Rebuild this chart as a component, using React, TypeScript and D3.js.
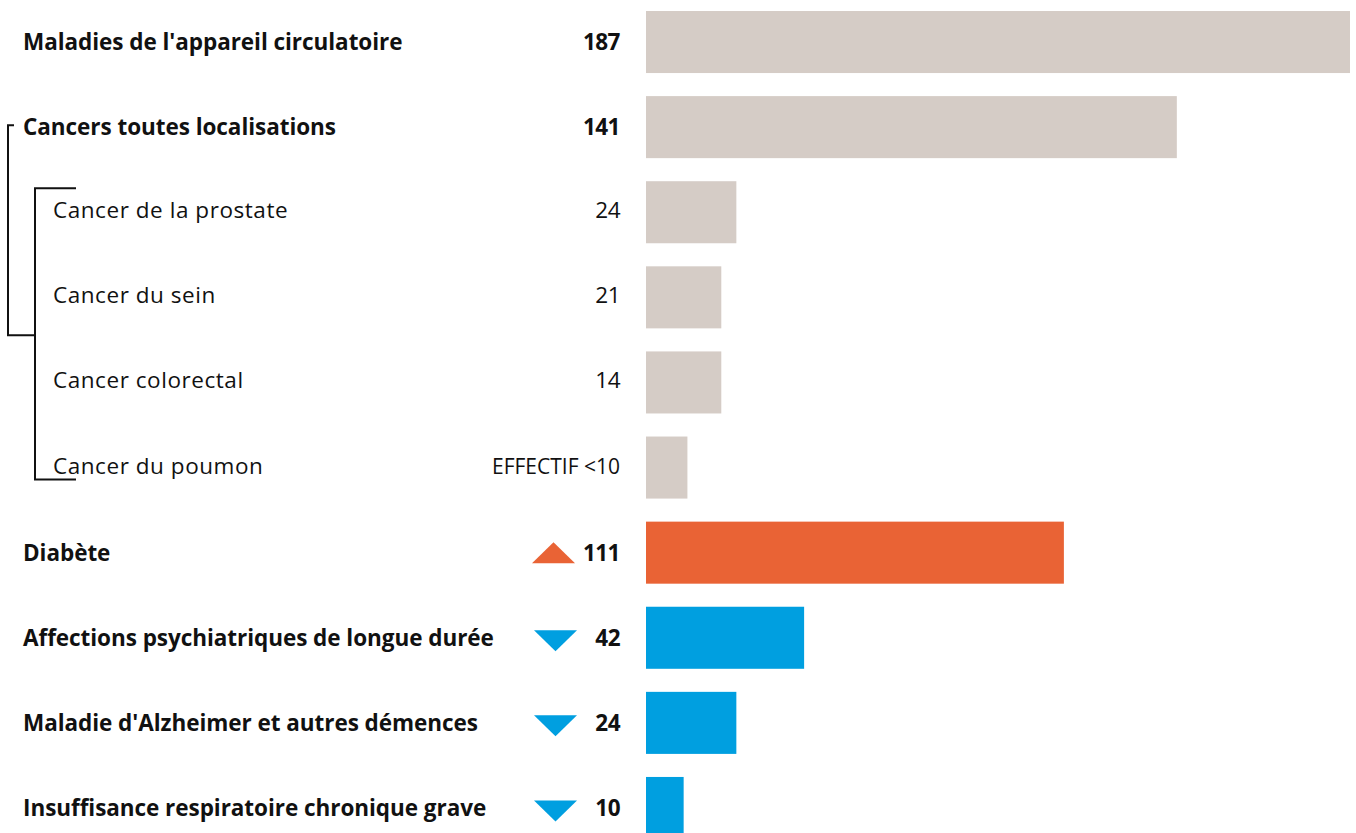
import React from "react";
import * as d3 from "d3";

const categories = [
  "Maladies de l'appareil circulatoire",
  "Cancers toutes localisations",
  "Cancer de la prostate",
  "Cancer du sein",
  "Cancer colorectal",
  "Cancer du poumon",
  "Diabète",
  "Affections psychiatriques de longue durée",
  "Maladie d'Alzheimer et autres démences",
  "Insuffisance respiratoire chronique grave",
];
const valueLabels = ["187", "141", "24", "21", "14", "EFFECTIF <10", "111", "42", "24", "10"];
const barValues = [187, 141, 24, 20, 20, 11, 111, 42, 24, 10];
const levels = [0, 0, 1, 1, 1, 1, 0, 0, 0, 0];
const groups = ["neutral", "neutral", "neutral", "neutral", "neutral", "neutral", "up", "down", "down", "down"];

const W = 1356;
const H = 833;
const FONT = "'Open Sans', Roboto, sans-serif";
const colors: Record<string, string> = { neutral: "#d5ccc6", up: "#e96335", down: "#009fe0" };

export default function App() {
  const x = d3.scaleLinear().domain([0, 187]).range([646, 1350]);
  const y = d3
    .scaleBand<number>()
    .domain(d3.range(categories.length))
    .range([11, 839])
    .paddingInner(0.271)
    .paddingOuter(0);
  const bw = y.bandwidth();
  const cy = (i: number) => (y(i) as number) + bw / 2;

  const triW = 43;
  const triH = 21;

  return (
    <svg
      width={W}
      height={H}
      style={{ position: "absolute", left: 0, top: 0, background: "#fff" }}
      fontFamily={FONT}
    >
      {categories.map((c, i) => {
        const isSub = levels[i] === 1;
        const g = groups[i];
        const c0 = cy(i);
        const tx = g === "up" ? 553.5 : 555.5;
        const small = valueLabels[i].length > 4;
        return (
          <g key={i}>
            <rect x={x(0)} y={y(i)} width={x(barValues[i]) - x(0)} height={bw} fill={colors[g]} />
            <text
              x={isSub ? 53 : 23}
              y={c0 + (isSub ? 6 : 8)}
              fontSize={22.5}
              fontWeight={isSub ? 400 : 700}
              letterSpacing={isSub ? 0.55 : -0.05}
              fill="#111"
            >
              {c}
            </text>
            <text
              x={620}
              y={c0 + (isSub ? 6 : 8)}
              textAnchor="end"
              fontSize={small ? 21 : 22.5}
              fontWeight={isSub ? 400 : 700}
              letterSpacing={small ? 0 : -0.5}
              fill="#111"
            >
              {valueLabels[i]}
            </text>
            {g === "up" && (
              <path
                d={`M${tx - triW / 2},${c0 + triH / 2} L${tx + triW / 2},${c0 + triH / 2} L${tx},${c0 - triH / 2} Z`}
                fill={colors.up}
              />
            )}
            {g === "down" && (
              <path
                d={`M${tx - triW / 2},${c0 - triH / 2 + 3} L${tx + triW / 2},${c0 - triH / 2 + 3} L${tx},${c0 + triH / 2 + 3} Z`}
                fill={colors.down}
              />
            )}
          </g>
        );
      })}
      {/* outer bracket: Cancers toutes localisations */}
      <path
        d={`M14,${cy(1) - 2} L8,${cy(1) - 2} L8,${cy(3) + 38} L35,${cy(3) + 38}`}
        fill="none"
        stroke="#111"
        strokeWidth={2}
      />
      {/* inner bracket: sub cancers */}
      <path
        d={`M76,${(y(2) as number) + 7} L35,${(y(2) as number) + 7} L35,${(y(5) as number) + 43} L76,${(y(5) as number) + 43}`}
        fill="none"
        stroke="#111"
        strokeWidth={2}
      />
    </svg>
  );
}
